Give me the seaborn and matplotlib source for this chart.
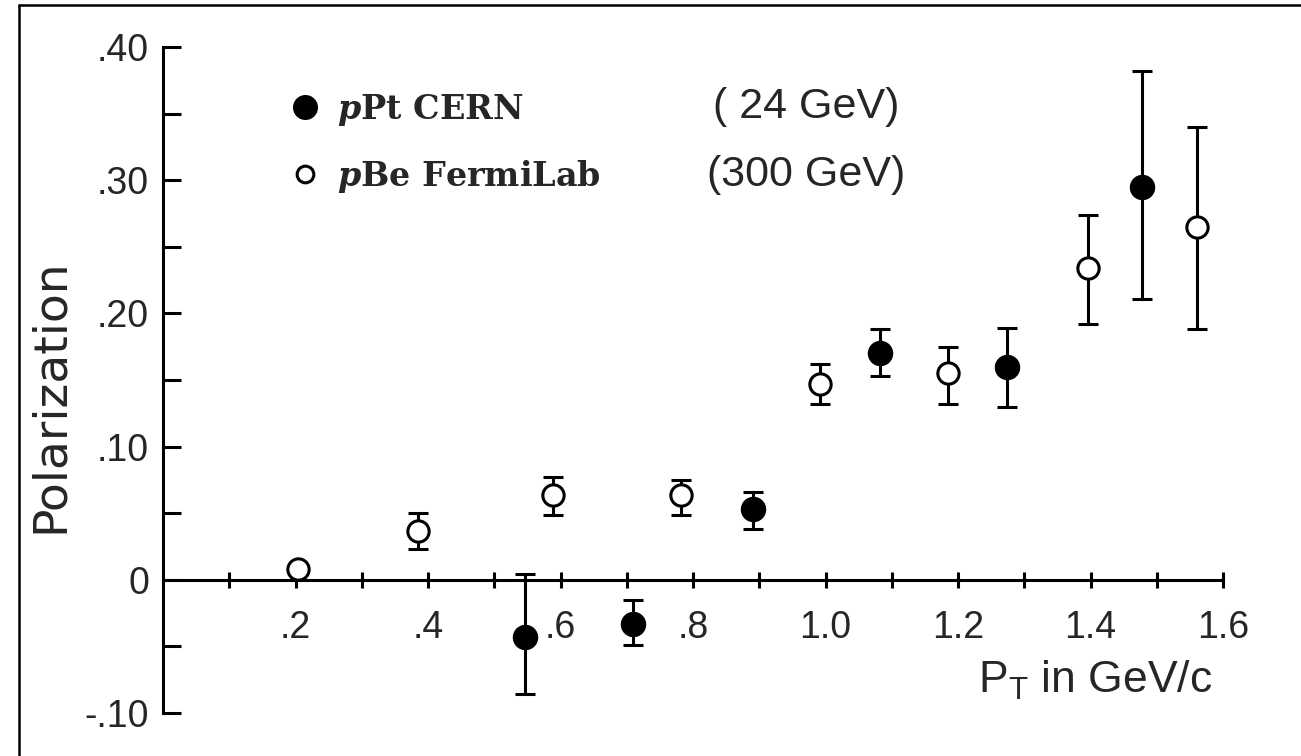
import numpy as np
import pandas as pd
import matplotlib
matplotlib.use("Agg")
import matplotlib.pyplot as plt
from matplotlib.lines import Line2D
import seaborn as sns

# ---------------- data ----------------
fermi_pt = [0.204, 0.385, 0.589, 0.782, 0.992, 1.185, 1.396, 1.561]
fermi_pol = [0.008, 0.037, 0.064, 0.064, 0.147, 0.155, 0.234, 0.265]
fermi_err_lo = [0.0, 0.014, 0.015, 0.015, 0.015, 0.023, 0.042, 0.077]
fermi_err_hi = [0.0, 0.013, 0.013, 0.011, 0.015, 0.020, 0.040, 0.075]

cern_pt = [0.546, 0.709, 0.891, 1.082, 1.274, 1.478]
cern_pol = [-0.043, -0.033, 0.053, 0.170, 0.160, 0.295]
cern_err_lo = [0.043, 0.016, 0.015, 0.017, 0.030, 0.084]
cern_err_hi = [0.047, 0.018, 0.013, 0.018, 0.029, 0.087]

x_ticks = [0.2, 0.4, 0.6, 0.8, 1.0, 1.2, 1.4, 1.6]
x_tick_labels = [".2", ".4", ".6", ".8", "1.0", "1.2", "1.4", "1.6"]
y_ticks = [-0.10, 0.0, 0.10, 0.20, 0.30, 0.40]
y_tick_labels = ["-.10", "0", ".10", ".20", ".30", ".40"]

legend_labels = [r"$\mathbfit{p}$Pt CERN", r"$\mathbfit{p}$Be FermiLab"]
energy_labels = ["( 24 GeV)", "(300 GeV)"]
x_label = r"$\mathregular{P_T}$ in GeV/c"
y_label = "Polarization"

# ---------------- style ----------------
sns.set_theme(style="white")
plt.rcParams["font.family"] = ["Liberation Sans", "DejaVu Sans"]
plt.rcParams["mathtext.fontset"] = "custom"
plt.rcParams["mathtext.bfit"] = "DejaVu Serif:italic:bold"
plt.rcParams["mathtext.rm"] = "Liberation Sans"

W, H = 1301, 756
fig = plt.figure(figsize=(W / 100, H / 100), dpi=100)
fig.patch.set_facecolor("white")
ax = fig.add_axes([163 / W, 43 / H, 1060 / W, 666 / H])
ax.set_facecolor("white")

df_f = pd.DataFrame({"pt": fermi_pt, "pol": fermi_pol})
df_c = pd.DataFrame({"pt": cern_pt, "pol": cern_pol})

lw = 2.2
# error bars
ax.errorbar(fermi_pt, fermi_pol, yerr=[fermi_err_lo, fermi_err_hi], fmt="none",
            ecolor="black", elinewidth=lw, capsize=7, capthick=lw, zorder=2, clip_on=False)
ax.errorbar(cern_pt, cern_pol, yerr=[cern_err_lo, cern_err_hi], fmt="none",
            ecolor="black", elinewidth=lw, capsize=7, capthick=lw, zorder=2, clip_on=False)

# markers
sns.scatterplot(data=df_f, x="pt", y="pol", ax=ax, marker="o", s=235,
                facecolor="white", edgecolor="black", linewidth=lw, zorder=3, clip_on=False)
sns.scatterplot(data=df_c, x="pt", y="pol", ax=ax, marker="o", s=300,
                color="black", edgecolor="black", linewidth=1, zorder=3, clip_on=False)

# axes
ax.set_xlim(0, 1.6)
ax.set_ylim(-0.10, 0.40)
for s in ["top", "right"]:
    ax.spines[s].set_visible(False)
ax.spines["bottom"].set_position(("data", 0))
ax.spines["bottom"].set_bounds(0, 1.6)
ax.spines["left"].set_bounds(-0.10, 0.40)
for s in ["bottom", "left"]:
    ax.spines[s].set_linewidth(lw)
    ax.spines[s].set_color("black")

ax.set_xticks(x_ticks)
ax.set_xticklabels(x_tick_labels)
ax.set_xticks(np.arange(0.1, 1.6, 0.2), minor=True)
ax.set_yticks(y_ticks)
ax.set_yticklabels(y_tick_labels)
ax.set_yticks([-0.05, 0.05, 0.15, 0.25, 0.35], minor=True)

ax.tick_params(axis="x", which="both", direction="inout", length=12, width=lw,
               color="black", labelsize=27, pad=16, bottom=True)
ax.tick_params(axis="y", which="both", direction="in", length=13, width=lw,
               color="black", labelsize=27, pad=10, left=True)

ax.set_xlabel(x_label, fontsize=32, ha="right", va="center")
ax.xaxis.set_label_coords((1212 - 163) / 1060, (713 - 680) / 666)
ax.set_ylabel(y_label, fontsize=34, va="center", family=["DejaVu Sans"])
ax.yaxis.set_label_coords((50 - 163) / 1060, (713 - 396) / 666)

# legend
handles = [
    Line2D([], [], marker="o", linestyle="none", markersize=17, markerfacecolor="black",
           markeredgecolor="black"),
    Line2D([], [], marker="o", linestyle="none", markersize=12, markerfacecolor="white",
           markeredgecolor="black", markeredgewidth=2.2),
]
leg = ax.legend(handles, legend_labels, loc="upper left",
                bbox_to_anchor=(288 / W, 1 - 92 / H), bbox_transform=fig.transFigure,
                frameon=False, prop={"family": "DejaVu Serif", "weight": "bold", "size": 24},
                handlelength=1.0, handletextpad=0.47, labelspacing=0.89, borderpad=0,
                borderaxespad=0)

# energies
ax.text((713 - 163) / 1060, (713 - 107) / 666, energy_labels[0], transform=ax.transAxes,
        fontsize=31, ha="left", va="center")
ax.text((707 - 163) / 1060, (713 - 175) / 666, energy_labels[1], transform=ax.transAxes,
        fontsize=31, ha="left", va="center")

# figure border (only left and top edges are visible in the reference)
fig.add_artist(Line2D([19 / W, 19 / W], [0, 1 - 5 / H], transform=fig.transFigure,
                      color="black", linewidth=1.8))
fig.add_artist(Line2D([19 / W, 1], [1 - 5 / H, 1 - 5 / H], transform=fig.transFigure,
                      color="black", linewidth=1.8))

fig.savefig("out.png", dpi=100, facecolor="white")
